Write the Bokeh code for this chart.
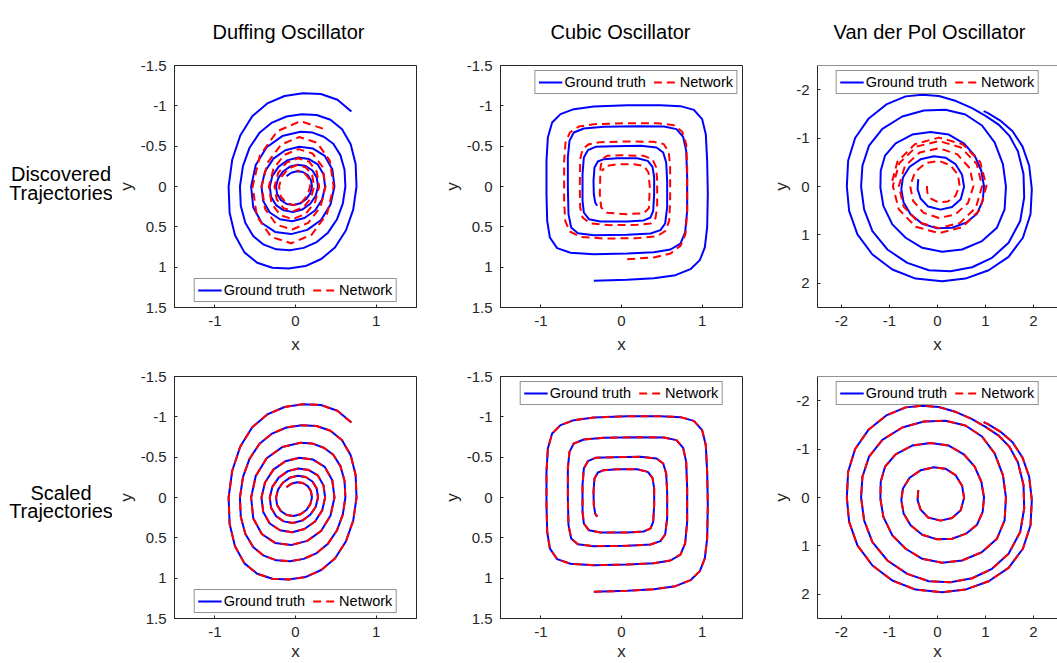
from bokeh.plotting import figure
from bokeh.models import (Range1d, FixedTicker, Legend, LegendItem, Span,
                          CustomJSTickFormatter)
from bokeh.layouts import row, column
from bokeh.core.properties import value
from bokeh.embed import file_html
from bokeh.resources import INLINE

FONT = "Liberation Sans"
AXC = "#262626"
BLUE = "#0000ff"
RED = "#ff0000"

titles = ["Duffing Oscillator", "Cubic Oscillator", "Van der Pol Oscillator"]
row_labels = [["Discovered", "Trajectories"], ["Scaled", "Trajectories"]]
legend_labels = ["Ground truth", "Network"]
ticks_15 = [-1.5, -1, -0.5, 0, 0.5, 1, 1.5]
ticks_x15 = [-1, 0, 1]
ticks_25 = [-2, -1, 0, 1, 2]

# ---------------- Duffing oscillator ----------------
duffing_true_x = [0.693, 0.5205, 0.3145, 0.0916, -0.135, -0.3496, -0.5362, -0.6845, -0.7843, -0.8291,
                  -0.8171, -0.7501, -0.6328, -0.4752, -0.2871, -0.0836, 0.1232, 0.319, 0.4893, 0.6245,
                  0.7155, 0.7565, 0.7454, 0.6843, 0.5772, 0.4334, 0.2619, 0.0762, -0.1124, -0.2908,
                  -0.4459, -0.569, -0.6517, -0.6886, -0.6784, -0.6225, -0.5249, -0.394, -0.238, -0.0693,
                  0.1019, 0.2632, 0.4027, 0.5129, 0.5863, 0.6184, 0.6079, 0.5568, 0.4686, 0.351,
                  0.2116, 0.0614,
                  -0.164, -0.358, -0.493, -0.550, -0.524, -0.418, -0.253, -0.055, 0.146, 0.317,
                  0.434, 0.483, 0.456, 0.363, 0.218, 0.047, -0.126, -0.274, -0.378, -0.422,
                  -0.400, -0.319, -0.193, -0.042, 0.111, 0.242, 0.331, 0.367, 0.347, 0.276,
                  0.166, 0.036, -0.095, -0.208, -0.287, -0.319, -0.303, -0.242, -0.146, -0.032,
                  0.084, 0.183, 0.251, 0.279, 0.264, 0.210, 0.127, 0.027, -0.073, -0.158,
                  -0.217, -0.241, -0.228, -0.181, -0.109, -0.024, 0.062, 0.135, 0.184, 0.204,
                  0.192, 0.152, 0.091, 0.020, -0.052, -0.112]
duffing_true_y = [-0.929, -1.0749, -1.1467, -1.157, -1.1223, -1.0297, -0.8713, -0.6317, -0.3323, 0.0,
                  0.3252, 0.6052, 0.8168, 0.9449, 1.008, 1.017, 0.9868, 0.8991, 0.756, 0.5456,
                  0.2861, 0.0, -0.2801, -0.5233, -0.7099, -0.8268, -0.8867, -0.897, -0.8683, -0.7927,
                  -0.6665, -0.481, -0.2522, 0.0, 0.2395, 0.4495, 0.6139, 0.7213, 0.7788, 0.79,
                  0.761, 0.6886, 0.5725, 0.4095, 0.2132, 0.0, -0.2078, -0.3891, -0.5302, -0.6172,
                  -0.6681, -0.678,
                  -0.625, -0.486, -0.266, 0.0, 0.257, 0.453, 0.563, 0.590, 0.538, 0.415,
                  0.224, 0.0, -0.214, -0.379, -0.470, -0.492, -0.449, -0.345, -0.186, 0.0,
                  0.180, 0.322, 0.406, 0.430, 0.391, 0.298, 0.160, 0.0, -0.153, -0.273,
                  -0.340, -0.360, -0.327, -0.246, -0.131, 0.0, 0.127, 0.230, 0.296, 0.315,
                  0.286, 0.214, 0.114, 0.0, -0.110, -0.198, -0.254, -0.270, -0.244, -0.183,
                  -0.097, 0.0, 0.094, 0.169, 0.217, 0.230, 0.208, 0.155, 0.082, 0.0,
                  -0.078, -0.141, -0.180, -0.190, -0.171, -0.128]
duffing_net_x = [0.340, 0.060, -0.226, -0.441, -0.531, -0.479, -0.302, -0.053, 0.201, 0.392,
                 0.473, 0.425, 0.268, 0.047, -0.179, -0.348, -0.419, -0.377, -0.238, -0.042,
                 0.158, 0.309, 0.372, 0.335, 0.211, 0.037, -0.140, -0.273, -0.330, -0.297,
                 -0.187, -0.033, 0.125, 0.243, 0.293, 0.263, 0.166, 0.029, -0.110, -0.215,
                 -0.260, -0.233, -0.147, -0.026, 0.098, 0.191, 0.230, 0.207, 0.130, 0.023,
                 -0.087, -0.169, -0.203, -0.184, -0.115, -0.020, 0.077, 0.150, 0.180, 0.162,
                 0.102, 0.018]
duffing_net_y = [-0.718, -0.810, -0.685, -0.387, 0.0, 0.369, 0.624, 0.704, 0.596, 0.336,
                 0.0, -0.321, -0.543, -0.613, -0.519, -0.293, 0.0, 0.279, 0.472, 0.533,
                 0.451, 0.255, 0.0, -0.243, -0.410, -0.463, -0.392, -0.221, 0.0, 0.211,
                 0.357, 0.403, 0.341, 0.193, 0.0, -0.184, -0.311, -0.350, -0.296, -0.168,
                 0.0, 0.160, 0.270, 0.305, 0.258, 0.146, 0.0, -0.139, -0.235, -0.265,
                 -0.224, -0.127, 0.0, 0.121, 0.204, 0.231, 0.195, 0.110, 0.0, -0.105,
                 -0.178, -0.200]

# ---------------- Cubic oscillator ----------------
cubic_true_x = [-0.343, 0.070, 0.401, 0.669, 0.855, 0.971, 1.033, 1.062, 1.070, 1.062,
                1.045, 1.000, 0.897, 0.731, 0.483, 0.070, -0.343, -0.591, -0.756, -0.860,
                -0.913, -0.930, -0.930, -0.921, -0.888, -0.798, -0.632, -0.343, 0.070, 0.401,
                0.607, 0.731, 0.789, 0.814, 0.814, 0.802, 0.764, 0.682, 0.525, 0.194,
                -0.219, -0.467, -0.591, -0.645, -0.665, -0.665, -0.657, -0.624, -0.541, -0.343,
                0.070, 0.360, 0.483, 0.541, 0.566, 0.566, 0.554, 0.517, 0.434, 0.236,
                -0.095, -0.322, -0.417, -0.467, -0.483, -0.483, -0.467, -0.405, -0.260, 0.070,
                0.277, 0.360, 0.393, 0.405, 0.405, 0.384, 0.326, 0.194, -0.054, -0.219,
                -0.293, -0.335, -0.347, -0.343, -0.326, -0.302]
cubic_true_y = [1.169, 1.157, 1.136, 1.099, 1.025, 0.913, 0.756, 0.508, 0.095, -0.318,
                -0.649, -0.835, -0.950, -0.996, -1.008, -1.008, -0.992, -0.959, -0.897, -0.793,
                -0.607, -0.318, 0.095, 0.426, 0.632, 0.764, 0.822, 0.839, 0.831, 0.814,
                0.781, 0.707, 0.570, 0.302, -0.112, -0.442, -0.616, -0.711, -0.744, -0.748,
                -0.740, -0.719, -0.669, -0.566, -0.360, 0.012, 0.343, 0.508, 0.579, 0.603,
                0.599, 0.583, 0.541, 0.459, 0.260, -0.070, -0.298, -0.421, -0.483, -0.504,
                -0.500, -0.492, -0.450, -0.360, -0.153, 0.178, 0.322, 0.405, 0.434, 0.434,
                0.421, 0.384, 0.302, 0.095, -0.112, -0.244, -0.318, -0.351, -0.351, -0.339,
                -0.310, -0.236, -0.070, 0.095, 0.198, 0.240]
cubic_net_x = [0.070, 0.401, 0.607, 0.731, 0.793, 0.814, 0.814, 0.802, 0.752, 0.649,
               0.442, 0.070, -0.343, -0.529, -0.640, -0.694, -0.711, -0.711, -0.698, -0.640,
               -0.508, -0.219, 0.194, 0.442, 0.545, 0.591, 0.603, 0.603, 0.587, 0.525,
               0.401, 0.070, -0.260, -0.405, -0.483, -0.512, -0.517, -0.512, -0.483, -0.384,
               -0.136, 0.194, 0.360, 0.421, 0.442, 0.442, 0.430, 0.384, 0.277, -0.012,
               -0.178, -0.240, -0.260, -0.269, -0.252, -0.178, 0.070, 0.277, 0.339, 0.351,
               0.335, 0.277, 0.153, -0.054, -0.198, -0.240]
cubic_net_y = [0.901, 0.880, 0.831, 0.736, 0.591, 0.302, -0.236, -0.525, -0.682, -0.760,
               -0.785, -0.785, -0.773, -0.744, -0.669, -0.545, -0.318, 0.178, 0.426, 0.558,
               0.624, 0.645, 0.640, 0.616, 0.550, 0.426, 0.178, -0.236, -0.421, -0.525,
               -0.554, -0.558, -0.550, -0.525, -0.463, -0.339, 0.012, 0.260, 0.384, 0.459,
               0.479, 0.475, 0.459, 0.393, 0.260, -0.070, -0.236, -0.339, -0.380, -0.388,
               -0.380, -0.339, -0.236, 0.095, 0.260, 0.326, 0.343, 0.331, 0.269, 0.012,
               -0.174, -0.256, -0.277, -0.277, -0.252, -0.194]

# ---------------- Van der Pol oscillator ----------------
vdp_true_x = [-0.401, -0.415, -0.353, -0.194, 0.062, 0.304, 0.484, 0.554, 0.512, 0.374,
              0.166, -0.076, -0.353, -0.581, -0.720, -0.754, -0.706, -0.561, -0.318, -0.007,
              0.304, 0.595, 0.824, 0.941, 0.969, 0.913, 0.775, 0.547, 0.235, -0.145,
              -0.526, -0.872, -1.093, -1.183, -1.190, -1.128, -0.941, -0.664, -0.318, 0.097,
              0.512, 0.927, 1.239, 1.398, 1.426, 1.363, 1.190, 0.927, 0.581, 0.166,
              -0.284, -0.734, -1.149, -1.426, -1.564, -1.592, -1.529, -1.356, -1.045, -0.630,
              -0.180, 0.270, 0.720, 1.135, 1.481, 1.723, 1.806, 1.792, 1.675, 1.495,
              1.273, 1.010, 0.720, 0.388, 0.028, -0.318, -0.664, -1.066, -1.439, -1.716,
              -1.862, -1.889, -1.841, -1.668, -1.356, -0.941, -0.457, 0.097, 0.581, 1.066,
              1.481, 1.779, 1.938, 1.965, 1.910, 1.772, 1.564, 1.308, 1.052, 0.962]
vdp_true_y = [-0.152, 0.055, 0.249, 0.415, 0.478, 0.422, 0.263, 0.007, -0.242, -0.464,
              -0.595, -0.623, -0.561, -0.408, -0.187, 0.055, 0.332, 0.574, 0.768, 0.865,
              0.851, 0.747, 0.561, 0.298, 0.0, -0.325, -0.637, -0.893, -1.073, -1.128,
              -1.073, -0.893, -0.637, -0.325, 0.021, 0.401, 0.782, 1.059, 1.266, 1.349,
              1.301, 1.128, 0.851, 0.471, 0.0, -0.464, -0.913, -1.260, -1.488, -1.585,
              -1.571, -1.446, -1.190, -0.844, -0.429, 0.0, 0.471, 0.920, 1.301, 1.578,
              1.730, 1.751, 1.668, 1.474, 1.163, 0.713, 0.228, -0.256, -0.727, -1.052,
              -1.280, -1.453, -1.619, -1.765, -1.869, -1.896, -1.862, -1.696, -1.398, -1.003,
              -0.533, 0.0, 0.505, 0.990, 1.405, 1.716, 1.903, 1.958, 1.903, 1.730,
              1.453, 1.059, 0.574, 0.055, -0.429, -0.824, -1.142, -1.363, -1.516, -1.557]
vdp_net_x = [-0.220, -0.212, -0.125, 0.030, 0.215, 0.376, 0.460, 0.428, 0.275, 0.030,
             -0.245, -0.468, -0.570, -0.507, -0.290, 0.030, 0.370, 0.636, 0.750, 0.671,
             0.410, 0.030, -0.370, -0.680, -0.805, -0.706, -0.400, 0.030, 0.470, 0.800,
             0.930, 0.818, 0.490, 0.030, -0.440, -0.793, -0.930, -0.806, -0.455, 0.030,
             0.520, 0.883, 1.020, 0.890, 0.528, 0.030, -0.470, -0.836, -0.970]
vdp_net_y = [-0.010, 0.130, 0.258, 0.330, 0.310, 0.190, -0.010, -0.240, -0.434, -0.530,
             -0.486, -0.298, -0.010, 0.300, 0.544, 0.650, 0.579, 0.340, -0.010, -0.380,
             -0.668, -0.790, -0.703, -0.420, -0.010, 0.415, 0.735, 0.860, 0.752, 0.435,
             -0.010, -0.465, -0.807, -0.940, -0.824, -0.485, -0.010, 0.473, 0.830, 0.965,
             0.839, 0.483, -0.010, -0.507, -0.873, -1.010, -0.876, -0.510, -0.010]

# ---------------- layout constants (pixels) ----------------
PAGE_W = 1057
TITLE_H = 45
ROW_TB = [(20, 49), (20, 45)]           # top / bottom borders of each row
COL_LR = [(62, 22), (62, 25), (50, 0)]  # left / right borders of each column
LABEL_W = 112
FRAME = 242


def blank(width, height):
    f = figure(width=width, height=height, x_range=Range1d(0, width),
               y_range=Range1d(height, 0), output_backend="svg",
               toolbar_location=None, x_axis_type=None, y_axis_type=None,
               min_border=0, background_fill_color="white",
               border_fill_color="white")
    f.outline_line_color = None
    f.grid.visible = False
    return f


def style_axis(ax, ticks, standoff, label, label_standoff):
    ax.ticker = FixedTicker(ticks=ticks)
    ax.formatter = CustomJSTickFormatter(code="return tick.toString();")
    ax.major_tick_in = 3
    ax.major_tick_out = 0
    ax.minor_tick_in = 0
    ax.minor_tick_out = 0
    ax.axis_line_color = AXC
    ax.axis_line_width = 1
    ax.major_tick_line_color = AXC
    ax.major_tick_line_width = 1
    ax.major_label_text_color = AXC
    ax.major_label_text_font = FONT
    ax.major_label_text_font_size = "15px"
    ax.major_label_standoff = standoff
    ax.axis_label = label
    ax.axis_label_text_font = FONT
    ax.axis_label_text_font_size = "17px"
    ax.axis_label_text_font_style = "normal"
    ax.axis_label_text_color = AXC
    ax.axis_label_standoff = label_standoff


def make_panel(col, rw, gt, nw, legend_loc):
    if col < 2:
        xr, yr, fw = (-1.5, 1.5), (-1.5, 1.5), FRAME
        xt, yt = ticks_x15, ticks_15
    else:
        xr, yr, fw = (-2.5, 2.5), (-2.5, 2.5), 240
        xt, yt = ticks_25, ticks_25
    lb, rb = COL_LR[col]
    tb, bb = ROW_TB[rw]
    p = figure(frame_width=fw, frame_height=FRAME,
               x_range=Range1d(xr[0], xr[1]), y_range=Range1d(yr[1], yr[0]),
               output_backend="svg", toolbar_location=None,
               min_border_left=lb, min_border_right=rb,
               min_border_top=tb, min_border_bottom=bb,
               background_fill_color="white", border_fill_color="white")
    p.grid.visible = False
    if col < 2:
        p.outline_line_color = AXC
        p.outline_line_width = 1
    else:
        p.outline_line_color = None
        p.add_layout(Span(location=yr[0], dimension="width", line_color=AXC, line_width=1))
    style_axis(p.xaxis[0], xt, 8, "x", 6 if rw == 0 else 2)
    style_axis(p.yaxis[0], yt, 8, "y", 2)

    r1 = p.line(gt[0], gt[1], line_color=BLUE, line_width=2, line_join="round")
    r2 = p.line(nw[0], nw[1], line_color=RED, line_width=2, line_dash="8 5",
                line_join="round")
    lg = Legend(items=[LegendItem(label=legend_labels[0], renderers=[r1]),
                       LegendItem(label=legend_labels[1], renderers=[r2])],
                orientation="horizontal", location=legend_loc,
                border_line_color=AXC, border_line_width=1,
                background_fill_color="white", background_fill_alpha=1.0,
                label_text_font=FONT, label_text_font_size="14.5px",
                label_text_color="#000000", glyph_width=24, glyph_height=14,
                label_height=14, label_standoff=2, spacing=8, padding=3, margin=5)
    p.add_layout(lg)
    return p


# titles strip
title_fig = blank(PAGE_W, TITLE_H)
title_fig.text(x=[288, 620, 929], y=[31.7, 31.7, 31.7], text=titles,
               text_align="center", text_baseline="alphabetic",
               text_font=value(FONT), text_font_size=value("20px"),
               text_color="#000000")

# row label strips
row_h = [ROW_TB[0][0] + FRAME + ROW_TB[0][1], ROW_TB[1][0] + FRAME + ROW_TB[1][1]]
lab1 = blank(LABEL_W, row_h[0])
lab1.text(x=[60.5, 60.5], y=[139.3, 163.3], text=row_labels[0],
          text_align="center", text_baseline="alphabetic",
          text_font=value(FONT), text_font_size=value("20px"), text_color="#000000")
lab2 = blank(LABEL_W, row_h[1])
lab2.text(x=[60.5, 60.5], y=[147.3, 170.0], text=row_labels[1],
          text_align="center", text_baseline="alphabetic",
          text_font=value(FONT), text_font_size=value("20px"), text_color="#000000")

p1 = make_panel(0, 0, (duffing_true_x, duffing_true_y), (duffing_net_x, duffing_net_y), "bottom_center")
p2 = make_panel(1, 0, (cubic_true_x, cubic_true_y), (cubic_net_x, cubic_net_y), "top_right")
p3 = make_panel(2, 0, (vdp_true_x, vdp_true_y), (vdp_net_x, vdp_net_y), "top_center")
p4 = make_panel(0, 1, (duffing_true_x, duffing_true_y), (duffing_true_x, duffing_true_y), "bottom_center")
p5 = make_panel(1, 1, (cubic_true_x, cubic_true_y), (cubic_true_x, cubic_true_y), "top_center")
p6 = make_panel(2, 1, (vdp_true_x, vdp_true_y), (vdp_true_x, vdp_true_y), "top_center")

p = column(title_fig, row(lab1, p1, p2, p3), row(lab2, p4, p5, p6))
open("out.html", "w").write(file_html(p, INLINE))
